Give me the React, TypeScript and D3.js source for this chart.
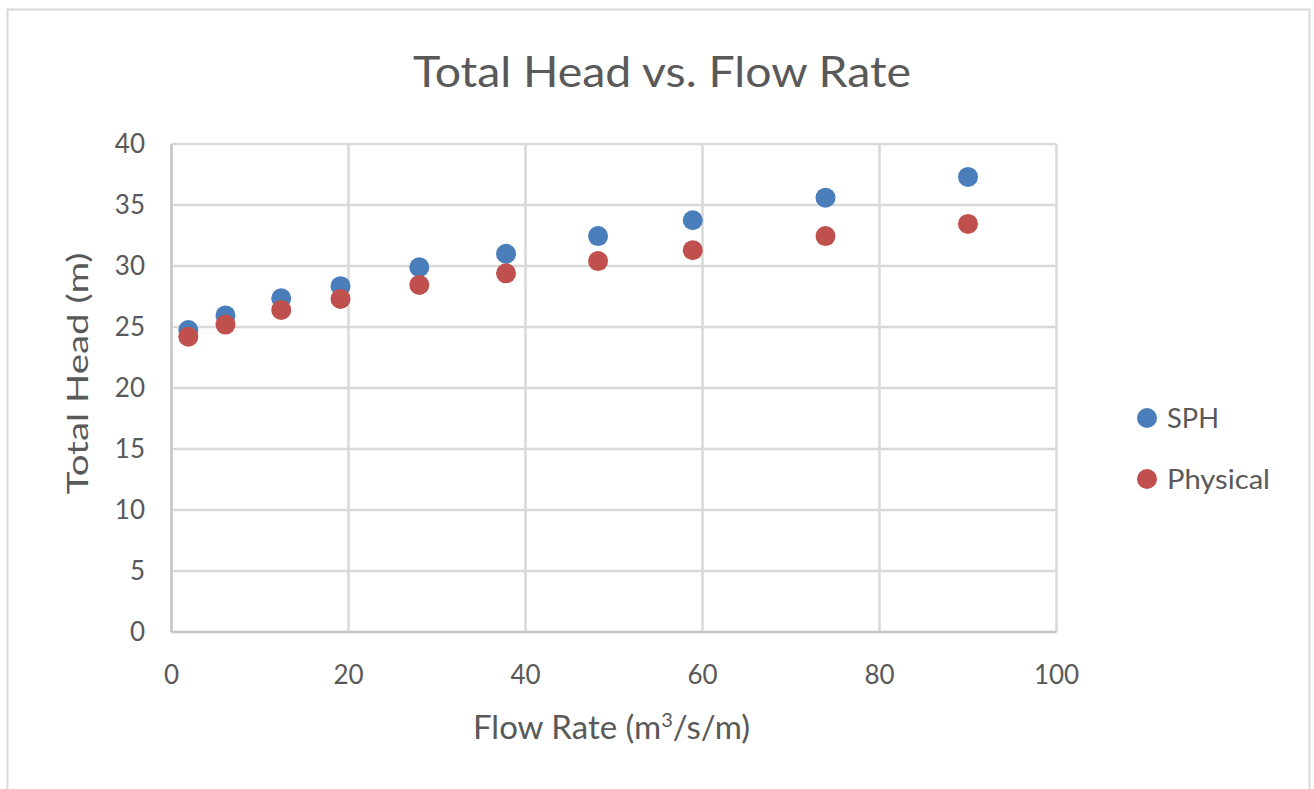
import React from 'react'
import * as d3 from 'd3'

// values
const flowRate = [1.9, 6.1, 12.4, 19.1, 28.0, 37.8, 48.2, 58.9, 73.9, 90.0]
const sphHead = [24.75, 25.95, 27.35, 28.35, 29.9, 31.0, 32.45, 33.75, 35.6, 37.3]
const physicalHead = [24.2, 25.2, 26.4, 27.3, 28.45, 29.4, 30.4, 31.3, 32.45, 33.45]
const xTicks = [0, 20, 40, 60, 80, 100]
const yTicks = [0, 5, 10, 15, 20, 25, 30, 35, 40]

const series = [
  { name: 'SPH', color: '#4a7ebb', values: sphHead, labelWidth: 52 },
  { name: 'Physical', color: '#c0504d', values: physicalHead, labelWidth: 103 },
]

const W = 1314
const H = 789
const font = 'Lato, "Open Sans", sans-serif'
const textColor = '#595959'
const gridColor = '#d9d9d9'

export default function App() {
  const x = d3.scaleLinear().domain([0, 100]).range([171.5, 1056.5])
  const y = d3.scaleLinear().domain([0, 40]).range([632, 144])

  return (
    <svg
      width={W}
      height={H}
      style={{ position: 'absolute', left: 0, top: 0, background: '#fff' }}
    >
      {/* chart frame */}
      <rect x={7.5} y={9.5} width={1302} height={800} fill="#fff" stroke="#d9d9d9" strokeWidth={2} />

      <text
        x={662}
        y={87}
        textAnchor="middle"
        fontFamily={font}
        fontSize={43}
        fill={textColor}
        textLength={498}
        lengthAdjust="spacingAndGlyphs"
      >
        Total Head vs. Flow Rate
      </text>

      {/* gridlines */}
      <g>
        {yTicks.map(t => (
          <line key={'gy' + t} x1={x(0)} x2={x(100)} y1={y(t)} y2={y(t)} stroke={gridColor} strokeWidth={2.5} />
        ))}
        {xTicks.map(t => (
          <line key={'gx' + t} x1={x(t)} x2={x(t)} y1={y(0)} y2={y(40)} stroke={gridColor} strokeWidth={2.5} />
        ))}
        <line x1={x(0)} x2={x(0)} y1={y(0)} y2={y(40)} stroke="#c8c8c8" strokeWidth={2.5} />
        <line x1={x(0)} x2={x(100)} y1={y(0)} y2={y(0)} stroke="#c8c8c8" strokeWidth={2.5} />
      </g>

      {/* tick labels */}
      <g fontFamily={font} fontSize={26} fill={textColor}>
        {yTicks.map(t => (
          <text key={'ly' + t} x={145} y={y(t)} dy="0.36em" textAnchor="end">
            {t}
          </text>
        ))}
        {xTicks.map(t => (
          <text key={'lx' + t} x={x(t)} y={684} textAnchor="middle">
            {t}
          </text>
        ))}
      </g>

      {/* axis titles */}
      <text
        transform={`translate(88, ${y(21.2)}) rotate(-90)`}
        textAnchor="middle"
        fontFamily={font}
        fontSize={29}
        fill={textColor}
        textLength={242}
        lengthAdjust="spacingAndGlyphs"
      >
        Total Head (m)
      </text>
      <text x={473} y={739} fontFamily={font} fontSize={33} fill={textColor}>
        Flow Rate (m
        <tspan fontSize={20} dy={-12}>3</tspan>
        <tspan dy={12}>/s/m)</tspan>
      </text>

      {/* points */}
      {series.map(s => (
        <g key={s.name}>
          {s.values.map((v, i) => (
            <circle key={i} cx={x(flowRate[i])} cy={y(v)} r={10} fill={s.color} />
          ))}
        </g>
      ))}

      {/* legend */}
      {series.map((s, i) => (
        <g key={'lg' + s.name} transform={`translate(1147, ${418 + i * 61})`}>
          <circle cx={0} cy={0} r={10} fill={s.color} />
          <text
            x={20}
            y={10}
            fontFamily={font}
            fontSize={26}
            fill={textColor}
            textLength={s.labelWidth}
            lengthAdjust="spacingAndGlyphs"
          >
            {s.name}
          </text>
        </g>
      ))}
    </svg>
  )
}
